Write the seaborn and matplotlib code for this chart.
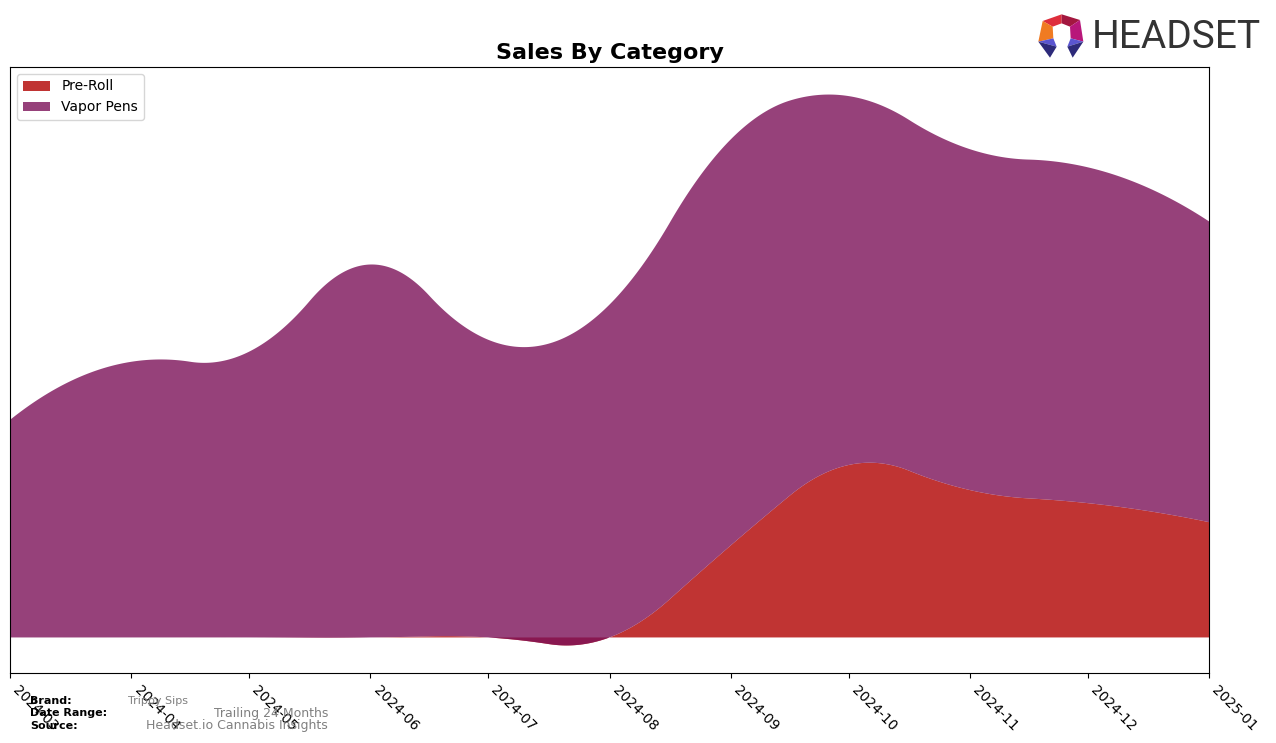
import numpy as np
import pandas as pd
import seaborn as sns
import matplotlib.pyplot as plt
import matplotlib.dates as mdates
from matplotlib.patches import Polygon

# monthly sales (arbitrary units, y axis has no ticks)
months = ['2024-03', '2024-04', '2024-05', '2024-06', '2024-07', '2024-08',
          '2024-09', '2024-10', '2024-11', '2024-12', '2025-01']
pre_roll = [0, 0, 0, 0, 0, 0, 92, 172, 147, 134, 115]
vapor_pens = [217, 275, 285, 372, 297, 332, 405, 368, 340, 335, 300]

categories = ['Pre-Roll', 'Vapor Pens']
colors = ['#b10100', '#7c1259']

brand = 'Trippy Sips'
date_range = 'Trailing 24 Months'
source = 'Headset.io Cannabis Insights'


def quad_spline(x, y, xs):
    """Quadratic interpolating spline, knots at midpoints (like scipy k=2)."""
    knots = ((x[1:] + x[:-1]) / 2)[1:-1]

    def basis(t):
        cols = [np.ones_like(t), t, t ** 2]
        cols += [np.clip(t - k, 0, None) ** 2 for k in knots]
        return np.column_stack(cols)

    coef = np.linalg.solve(basis(x), y)
    return basis(xs) @ coef


sns.set_style('ticks', {'axes.edgecolor': 'black', 'xtick.color': 'black',
                        'text.color': 'black', 'axes.labelcolor': 'black'})
plt.rcParams['font.family'] = ['DejaVu Sans']

df = pd.DataFrame({'month': pd.to_datetime(months), 'Pre-Roll': pre_roll, 'Vapor Pens': vapor_pens})
xnum = mdates.date2num(df['month'])
t = (xnum - xnum[0]) / 30.0
xs_num = np.linspace(xnum[0], xnum[-1], 600)
ts = (xs_num - xnum[0]) / 30.0

smooth = [quad_spline(t, df[c].to_numpy(float), ts) for c in categories]

fig = plt.figure(figsize=(12.76, 7.43), dpi=100)
ax = fig.add_axes([10 / 1276, 1 - 673 / 743, 1199 / 1276, 606 / 743])
ax.stackplot(mdates.num2date(xs_num), *smooth, labels=categories, colors=colors,
             alpha=0.8, linewidth=0, edgecolor='none')

ax.set_xlim(df['month'].iloc[0], df['month'].iloc[-1])
ax.xaxis.set_major_locator(mdates.MonthLocator())
ax.xaxis.set_major_formatter(mdates.DateFormatter('%Y-%m'))
plt.setp(ax.get_xticklabels(), rotation=-45, ha='left', fontsize=10, color='black')
ax.set_yticks([])
ax.set_title('Sales By Category', fontsize=16, fontweight='bold', pad=6, color='black')
leg = ax.legend(loc='upper left', fontsize=10)
for txt in leg.get_texts():
    txt.set_color('black')

# footer
fig.text(30 / 1276, 1 - 701 / 743, 'Brand:', fontsize=8, fontweight='bold', va='center', color='black')
fig.text(30 / 1276, 1 - 713 / 743, 'Date Range:', fontsize=8, fontweight='bold', va='center', color='black')
fig.text(30 / 1276, 1 - 726 / 743, 'Source:', fontsize=8, fontweight='bold', va='center', color='black')
fig.text(128 / 1276, 1 - 701 / 743, brand, fontsize=8, color='gray', va='center')
fig.text(328 / 1276, 1 - 713 / 743, date_range, fontsize=9, color='gray', va='center', ha='right')
fig.text(328 / 1276, 1 - 726 / 743, source, fontsize=9, color='gray', va='center', ha='right')

# logo
lax = fig.add_axes([1030 / 1276, 1 - 64 / 743, 60 / 1276, 56 / 743])
lax.set_xlim(1030, 1090)
lax.set_ylim(64, 8)
lax.axis('off')
shapes = [
    ([(38, 48), (95, 28), (95, 55), (68, 65)], '#de2e3c'),
    ([(95, 28), (150, 45), (120, 65), (95, 55)], '#a3173f'),
    ([(150, 45), (160, 110), (122, 100), (120, 65)], '#b8177a'),
    ([(38, 48), (68, 65), (70, 100), (25, 110)], '#f07b22'),
    ([(25, 110), (70, 100), (80, 125)], '#5a55d0'),
    ([(25, 110), (80, 125), (60, 158)], '#2d2a7a'),
    ([(160, 110), (122, 100), (112, 125)], '#5a55d0'),
    ([(160, 110), (112, 125), (128, 158)], '#2d2a7a'),
]
for pts, c in shapes:
    lax.add_patch(Polygon([(1030 + px / 3, 5 + py / 3) for px, py in pts], closed=True, color=c, lw=0))
fig.text(1092 / 1276, 1 - 37 / 743, 'HEADSET', fontsize=28, color='#333333', va='center', ha='left',
         family=['Roboto', 'DejaVu Sans'])

plt.savefig('out.png', dpi=100)
plt.close()
